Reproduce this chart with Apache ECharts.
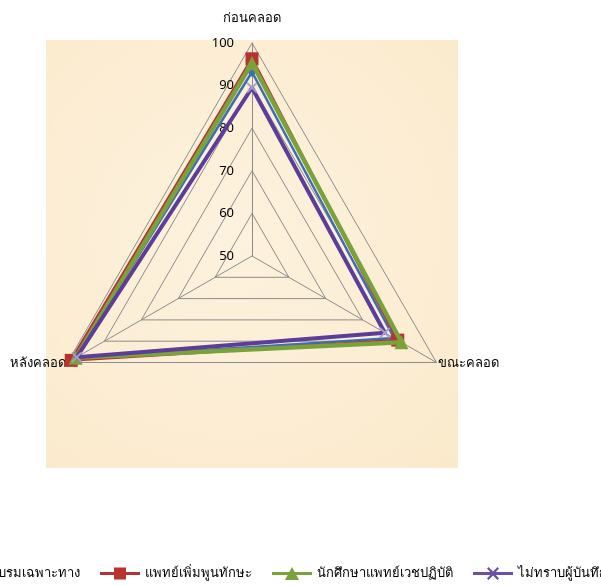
<!DOCTYPE html>
<html>
<head>
<meta charset="utf-8">
<script src="https://cdn.jsdelivr.net/npm/echarts@6/dist/echarts.min.js"></script>
<style>
  html, body { margin: 0; padding: 0; background: #ffffff; }
  #chart { width: 601px; height: 585px; }
</style>
</head>
<body>
<div id="chart"></div>
<script>
// Indicators, listed counter-clockwise from the top as the radar lays them out
const indicators = ['ก่อนคลอด', 'หลังคลอด', 'ขณะคลอด'];
const scaleMin = 50;
const scaleMax = 100;

// Series names and their values per indicator (same order as indicators)
const seriesNames = [
  'แพทย์ฝึกอบรมเฉพาะทาง',
  'แพทย์เพิ่มพูนทักษะ',
  'นักศึกษาแพทย์เวชปฏิบัติ',
  'ไม่ทราบผู้บันทึก'
];
const residentValues = [93.2, 98.0, 88.5];
const internValues   = [96.3, 99.0, 89.5];
const studentValues  = [95.3, 97.8, 90.5];
const unknownValues  = [89.5, 97.5, 86.0];

const seriesValues = [residentValues, internValues, studentValues, unknownValues];
const seriesColors = ['#3a6fb5', '#b83330', '#79a23a', '#5c3d99'];
const crossPath = 'path://M0,1.2L1.2,0L5,3.8L8.8,0L10,1.2L6.2,5L10,8.8L8.8,10L5,6.2L1.2,10L0,8.8L3.8,5Z';
const seriesSymbols = ['diamond', 'rect', 'triangle', crossPath];
const symbolColors = ['#3a6fb5', '#b83330', '#79a23a', '#a99bd0'];
const lineWidths = [2.5, 3, 4.5, 4];
const symbolSizes = [10, 13, 14, 11];

// Legend icons: a short line with the series marker in its middle (40 x 13 box)
const bar = 'M0,5L40,5L40,8L0,8Z';
const legendIcons = [
  'path://' + bar + 'M20,0L26,6.5L20,13L14,6.5Z',
  'path://' + bar + 'M14,0.5L26,0.5L26,12.5L14,12.5Z',
  'path://' + bar + 'M20,0L27,13L13,13Z',
  'path://' + bar + 'M14,1.5L15.5,0L20,4.5L24.5,0L26,1.5L21.5,6.5L26,11.5L24.5,13L20,8.5L15.5,13L14,11.5L18.5,6.5Z'
];
const legendColors = ['#3a6fb5', '#b83330', '#79a23a', '#6a50a6'];

const font = '"Noto Sans", "DejaVu Sans", sans-serif';

const chart = echarts.init(document.getElementById('chart'), null, { renderer: 'canvas' });

const option = {
  backgroundColor: '#ffffff',
  animation: false,
  graphic: [{
    type: 'rect',
    silent: true,
    z: -10,
    shape: { x: 46, y: 40, width: 412, height: 428 },
    style: {
      fill: {
        type: 'radial', x: 0.45, y: 0.45, r: 0.8,
        colorStops: [
          { offset: 0, color: '#fdf2de' },
          { offset: 0.6, color: '#fcedd3' },
          { offset: 1, color: '#faeacb' }
        ]
      }
    }
  }],
  legend: {
    left: -110,
    top: 562,
    width: 900,
    itemWidth: 40,
    itemHeight: 13,
    itemGap: 20,
    textStyle: { fontFamily: font, fontSize: 13, color: '#000' },
    data: seriesNames.map((name, i) => ({
      name: name,
      icon: legendIcons[i],
      itemStyle: { color: legendColors[i] }
    }))
  },
  radar: {
    center: [252, 256],
    radius: 213,
    startAngle: 90,
    splitNumber: 5,
    shape: 'polygon',
    nameGap: 2,
    axisName: {
      color: '#000',
      fontFamily: font,
      fontSize: 13,
      formatter: (name) => name === indicators[0] ? '{top|' + name + '}' : name,
      rich: {
        top: { fontFamily: font, fontSize: 13, color: '#000', padding: [0, 0, 16, 0] }
      }
    },
    indicator: indicators.map((name, i) => ({
      name: name,
      min: scaleMin,
      max: scaleMax,
      axisLabel: { show: i === 0 }
    })),
    axisLine: { lineStyle: { color: '#8c8c8c', width: 1 } },
    splitLine: { lineStyle: { color: '#8c8c8c', width: 1 } },
    splitArea: { show: false },
    axisTick: { show: false },
    axisLabel: {
      show: true,
      color: '#000',
      fontFamily: font,
      fontSize: 13,
      margin: 18
    }
  },
  series: seriesNames.map((name, i) => ({
    type: 'radar',
    name: name,
    symbol: seriesSymbols[i],
    symbolSize: symbolSizes[i],
    itemStyle: { color: symbolColors[i] },
    lineStyle: { color: seriesColors[i], width: lineWidths[i] },
    z: 2 + i,
    data: [{ value: seriesValues[i], name: name }]
  }))
};

chart.setOption(option);
</script>
</body>
</html>
